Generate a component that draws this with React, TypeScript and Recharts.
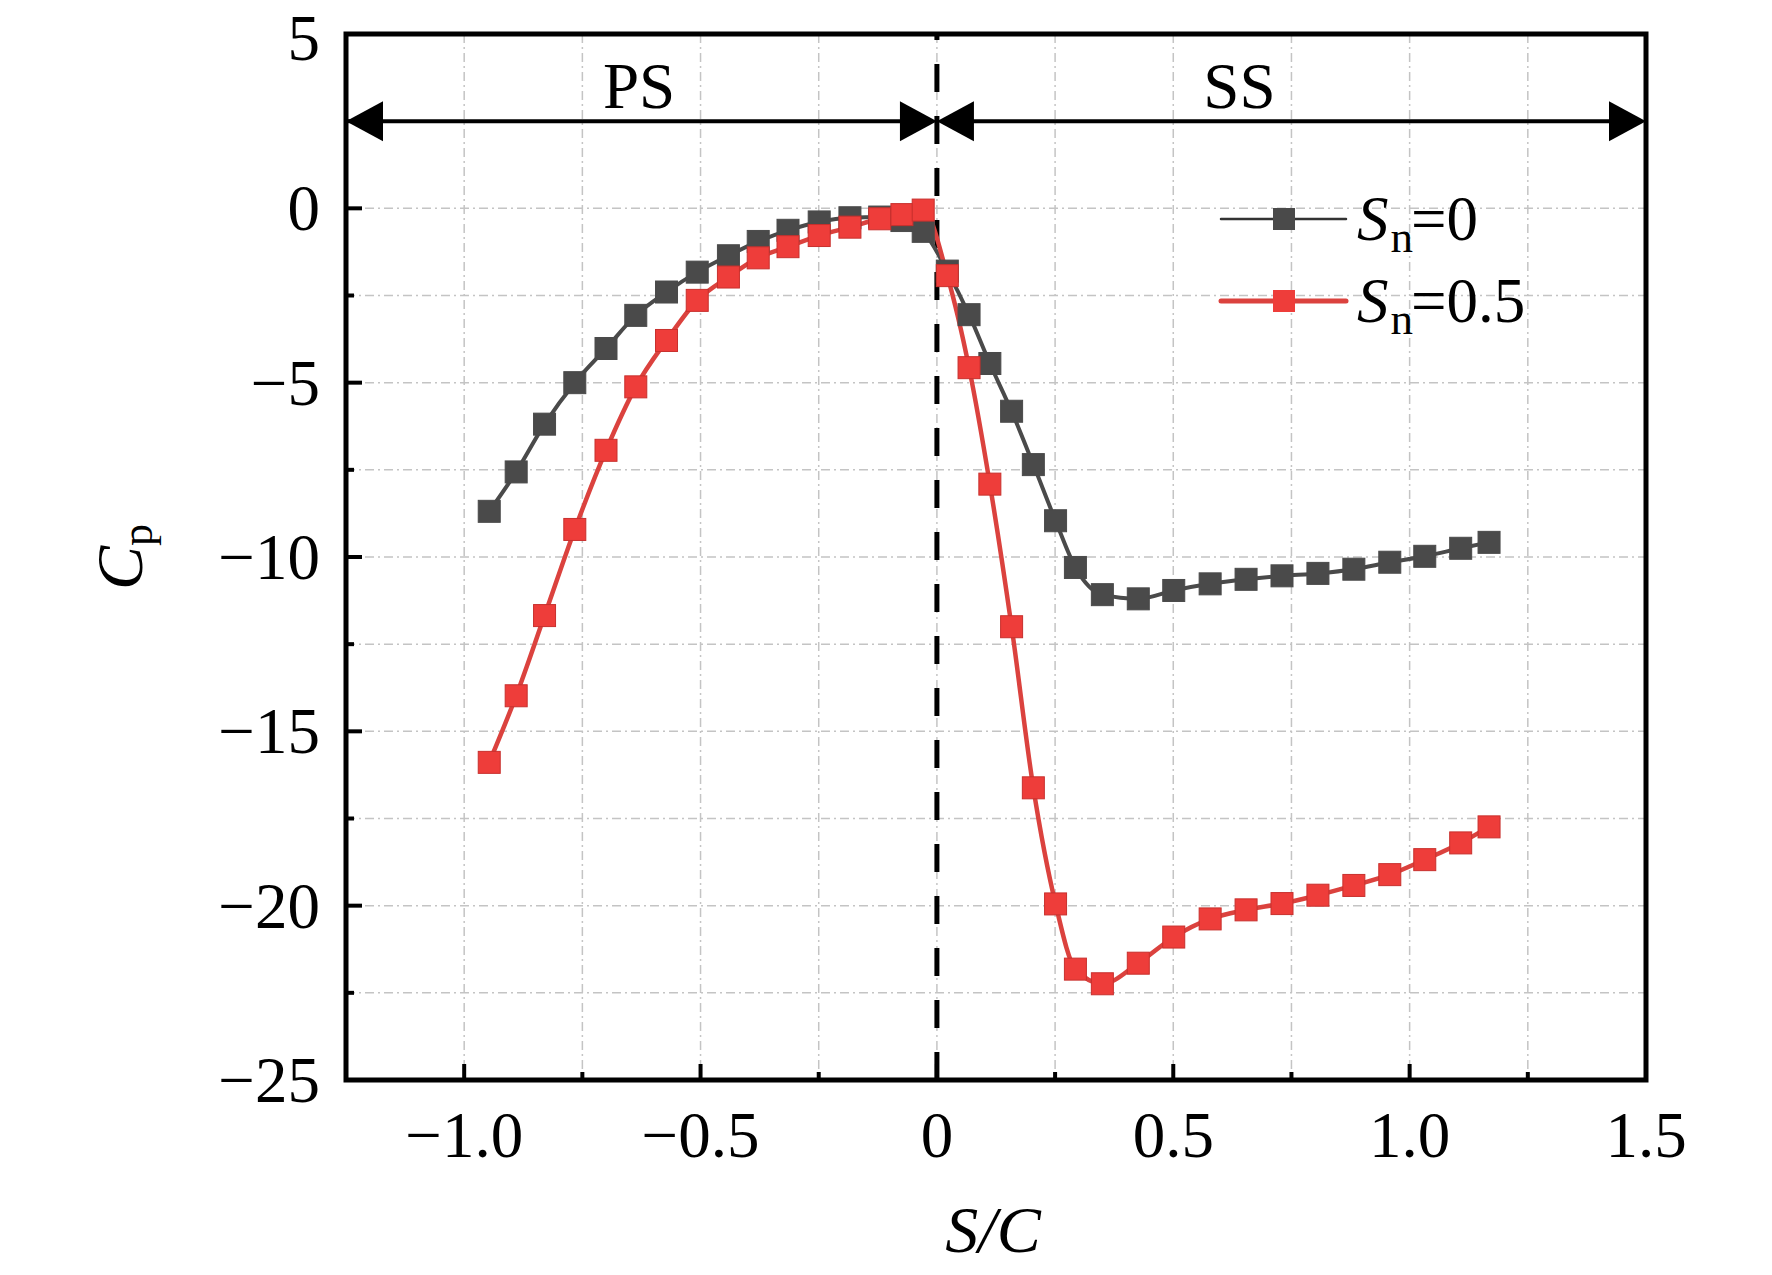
import React from 'react';
import {
  LineChart,
  Line,
  XAxis,
  YAxis,
  CartesianGrid,
  ReferenceLine,
  ReferenceDot,
  ReferenceArea,
  Legend,
} from 'recharts';

// ---------- data ----------
const scValues = [
  -0.947, -0.89, -0.83, -0.766, -0.7, -0.637, -0.572, -0.507, -0.441, -0.378,
  -0.315, -0.249, -0.184, -0.121, -0.074, -0.029,
  0.022, 0.068, 0.112, 0.158, 0.204, 0.251, 0.293, 0.35, 0.426, 0.501,
  0.578, 0.654, 0.73, 0.806, 0.882, 0.958, 1.032, 1.108, 1.168,
];

const cpSn0 = [
  -8.69, -7.56, -6.19, -5.0, -4.02, -3.07, -2.4, -1.83, -1.36, -0.95,
  -0.63, -0.39, -0.27, -0.25, -0.35, -0.66,
  -1.8, -3.05, -4.45, -5.82, -7.35, -8.96, -10.3, -11.08, -11.2, -10.96,
  -10.77, -10.64, -10.54, -10.47, -10.35, -10.15, -9.98, -9.75, -9.58,
];

const cpSn05 = [
  -15.89, -13.98, -11.68, -9.21, -6.94, -5.12, -3.79, -2.64, -1.97, -1.42,
  -1.1, -0.78, -0.54, -0.3, -0.18, -0.05,
  -1.93, -4.57, -7.91, -12.0, -16.62, -19.95, -21.82, -22.24, -21.65, -20.9,
  -20.38, -20.12, -19.94, -19.7, -19.42, -19.11, -18.68, -18.2, -17.74,
];

const seriesNames = ['Sn=0', 'Sn=0.5'];
const legendValues = ['0', '0.5'];

const xTicks = [-1.25, -1, -0.75, -0.5, -0.25, 0, 0.25, 0.5, 0.75, 1, 1.25, 1.5];
const xLabelTicks = [-1, -0.5, 0, 0.5, 1, 1.5];
const yTicks = [-25, -22.5, -20, -17.5, -15, -12.5, -10, -7.5, -5, -2.5, 0, 2.5, 5];
const yLabelTicks = [-25, -20, -15, -10, -5, 0, 5];

const xDomain: [number, number] = [-1.25, 1.5];
const yDomain: [number, number] = [-25, 5];

const sideArrowY = 2.5;
const sideLabelY = 2.88;
const sideRegions = [
  { name: 'PS', from: -1.25, to: 0, labelX: -0.63 },
  { name: 'SS', from: 0, to: 1.5, labelX: 0.64 },
];

const data = scValues.map((x, i) => ({ sc: x, sn0: cpSn0[i], sn05: cpSn05[i] }));

// ---------- styles ----------
const FONT = "'Liberation Serif', 'Times New Roman', serif";
const FS = 65;
const BLACK = '#4a4a4a';
const RED_FILL = '#ee3d3a';
const RED_LINE = '#db423e';

const fmtY = (v: number) => (v === 0 ? '0' : (v < 0 ? '\u2212' : '') + String(Math.abs(v)));
const fmtX = (v: number) => (v === 0 ? '0' : (v < 0 ? '\u2212' : '') + Math.abs(v).toFixed(1));

const XTick = (props: any) => {
  const { x, y, payload } = props;
  const v = payload.value;
  const major = xLabelTicks.includes(v);
  return (
    <g>
      <line x1={x} x2={x} y1={y} y2={y - (major ? 16 : 8)} stroke="#000" strokeWidth={4} />
      {major && v !== xDomain[0] ? (
        <text x={x} y={y + 77} textAnchor="middle" fontFamily={FONT} fontSize={FS} fill="#000">
          {fmtX(v)}
        </text>
      ) : null}
    </g>
  );
};

const YTick = (props: any) => {
  const { x, y, payload } = props;
  const v = payload.value;
  const major = yLabelTicks.includes(v);
  const nudge = v === yDomain[1] ? 4 : 0;
  return (
    <g>
      <line x1={x} x2={x + (major ? 16 : 8)} y1={y} y2={y} stroke="#000" strokeWidth={4} />
      {major ? (
        <text x={x - 26} y={y + 22 + nudge} textAnchor="end" fontFamily={FONT} fontSize={FS} fill="#000">
          {fmtY(v)}
        </text>
      ) : null}
    </g>
  );
};

const squareDot = (fill: string, stroke: string) => (props: any) => {
  const { cx, cy, index } = props;
  if (cx == null || cy == null) return <g key={`e-${index}`} />;
  return (
    <rect
      key={`d-${index}`}
      x={cx - 11}
      y={cy - 11}
      width={22}
      height={22}
      fill={fill}
      stroke={stroke}
      strokeWidth={1}
    />
  );
};

const ArrowShape = (props: any) => {
  const { x1, y1, x2 } = props;
  const y = y1;
  const L = 37;
  const H = 20;
  return (
    <g>
      <line x1={x1 + 20} x2={x2 - 20} y1={y} y2={y} stroke="#000" strokeWidth={4} />
      <polygon points={`${x1},${y} ${x1 + L},${y - H} ${x1 + L},${y + H}`} fill="#000" />
      <polygon points={`${x2},${y} ${x2 - L},${y - H} ${x2 - L},${y + H}`} fill="#000" />
    </g>
  );
};

const sideLabelShape = (name: string) => (props: any) => {
  const { cx, cy } = props;
  return (
    <text x={cx} y={cy} textAnchor="middle" fontFamily={FONT} fontSize={FS} fill="#000">
      {name}
    </text>
  );
};

const YLabel = (props: any) => {
  const vb = props.viewBox || {};
  const cx = (vb.x || 0) + 134;
  const cy = (vb.y || 0) + (vb.height || 0) / 2;
  return (
    <text
      x={cx}
      y={cy}
      transform={`rotate(-90, ${cx}, ${cy})`}
      textAnchor="middle"
      fontFamily={FONT}
      fontSize={FS + 1}
      fill="#000"
    >
      <tspan fontStyle="italic">C</tspan>
      <tspan fontSize={44} dy={10}>p</tspan>
    </text>
  );
};

const XLabel = (props: any) => {
  const vb = props.viewBox || {};
  const cx = (vb.x || 0) + (vb.width || 0) / 2 - 3;
  const cy = (vb.y || 0) + 172;
  return (
    <text x={cx} y={cy} textAnchor="middle" fontFamily={FONT} fontSize={FS + 1} fontStyle="italic" fill="#000">
      S/C
    </text>
  );
};

const renderLegend = (props: any) => {
  const payload = props.payload || [];
  const rowGap = 82;
  return (
    <svg width={340} height={175} style={{ display: 'block', overflow: 'visible' }}>
      {payload.map((p: any, i: number) => {
        const yLine = 40 + i * rowGap;
        const base = 61 + i * rowGap;
        const isRed = i === 1;
        const col = isRed ? RED_LINE : '#333';
        const fill = isRed ? RED_FILL : BLACK;
        return (
          <g key={`lg-${i}`}>
            <line x1={0} x2={125} y1={yLine} y2={yLine} stroke={col} strokeWidth={isRed ? 5 : 2.5} strokeLinecap="round" />
            <rect x={52} y={yLine - 11} width={22} height={22} fill={fill} />
            <text x={136} y={base} fontFamily={FONT} fontSize={63} fill="#000">
              <tspan fontStyle="italic">S</tspan>
              <tspan fontSize={45} dy={12} dx={2}>n</tspan>
              <tspan dy={-12} dx={-2}>={legendValues[i]}</tspan>
            </text>
          </g>
        );
      })}
    </svg>
  );
};

export default function App() {
  return (
    <div style={{ width: 1756, height: 1267, marginTop: -8, fontFamily: FONT }}>
      <LineChart
        width={1756}
        height={1267}
        data={data}
        margin={{ top: 34, right: 118, bottom: 0, left: 0 }}
        style={{ overflow: 'visible' }}
      >
        <CartesianGrid
          stroke="#c4c4c4"
          strokeWidth={1.5}
          strokeDasharray="9 4 2 4"
        />
        <XAxis
          dataKey="sc"
          type="number"
          domain={xDomain}
          ticks={xTicks}
          allowDataOverflow
          interval={0}
          height={187}
          tickSize={0}
          tickMargin={0}
          tickLine={false}
          axisLine={false}
          tick={<XTick />}
          label={<XLabel />}
        />
        <YAxis
          type="number"
          domain={yDomain}
          ticks={yTicks}
          allowDataOverflow
          interval={0}
          width={338}
          tickSize={0}
          tickMargin={0}
          tickLine={false}
          axisLine={false}
          tick={<YTick />}
          label={<YLabel />}
        />
        <ReferenceArea
          x1={xDomain[0]}
          x2={xDomain[1]}
          y1={yDomain[0]}
          y2={yDomain[1]}
          fill="none"
          fillOpacity={0}
          stroke="#000"
          strokeWidth={5}
          ifOverflow="visible"
        />
        <ReferenceLine x={0} stroke="#000" strokeWidth={5} strokeDasharray="28 24" />
        {sideRegions.map((r) => (
          <ReferenceLine
            key={`arr-${r.name}`}
            segment={[
              { x: r.from, y: sideArrowY },
              { x: r.to, y: sideArrowY },
            ]}
            ifOverflow="visible"
            shape={ArrowShape}
          />
        ))}
        {sideRegions.map((r) => (
          <ReferenceDot
            key={`lbl-${r.name}`}
            x={r.labelX}
            y={sideLabelY}
            r={0}
            ifOverflow="visible"
            shape={sideLabelShape(r.name)}
          />
        ))}
        <Legend
          layout="vertical"
          align="center"
          verticalAlign="middle"
          wrapperStyle={{ position: 'absolute', left: 1213, top: 179, width: 340, height: 175 }}
          content={renderLegend}
        />
        <Line
          name={seriesNames[0]}
          dataKey="sn0"
          type="monotone"
          stroke={BLACK}
          strokeWidth={4}
          dot={squareDot(BLACK, BLACK)}
          activeDot={false}
          isAnimationActive={false}
        />
        <Line
          name={seriesNames[1]}
          dataKey="sn05"
          type="monotone"
          stroke={RED_LINE}
          strokeWidth={4.5}
          dot={squareDot(RED_FILL, '#c8302d')}
          activeDot={false}
          isAnimationActive={false}
        />
      </LineChart>
    </div>
  );
}
